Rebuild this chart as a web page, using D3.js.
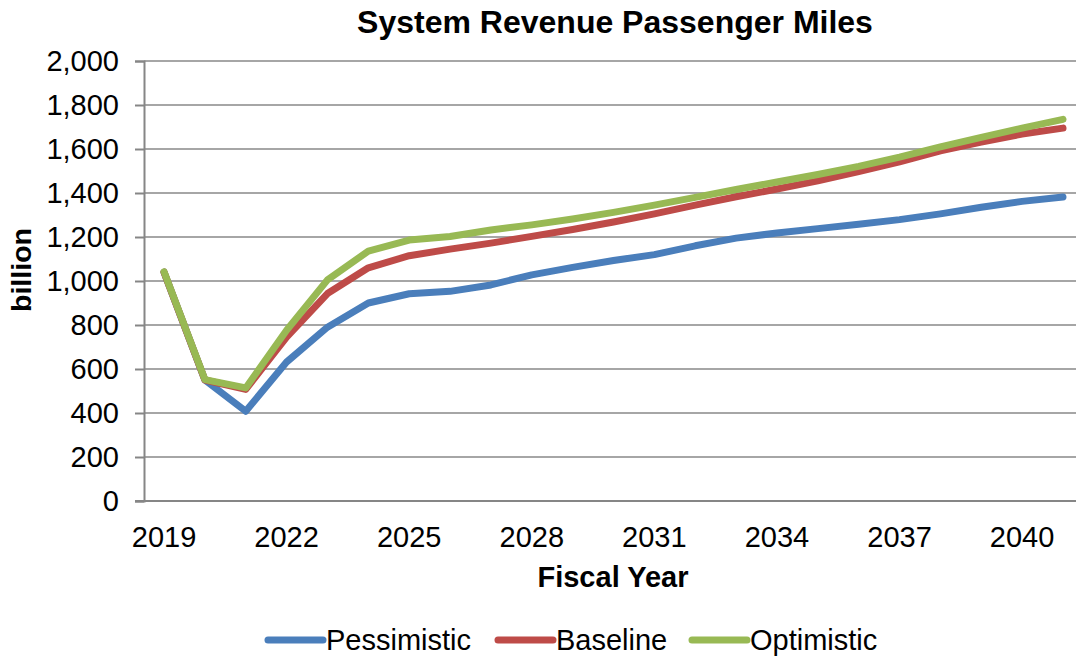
<!DOCTYPE html>
<html>
<head>
<meta charset="utf-8">
<script src="https://cdn.jsdelivr.net/npm/d3@7"></script>
<style>
  html, body { margin: 0; padding: 0; background: #fff; }
  svg { display: block; font-family: "Liberation Sans", Arial, sans-serif; }
</style>
</head>
<body>
<svg id="chart" width="1076" height="656"></svg>
<script>
// Fiscal years on the category axis
const years = [2019, 2020, 2021, 2022, 2023, 2024, 2025, 2026, 2027, 2028, 2029, 2030,
               2031, 2032, 2033, 2034, 2035, 2036, 2037, 2038, 2039, 2040, 2041];
const yearTicks = [2019, 2022, 2025, 2028, 2031, 2034, 2037, 2040];
const valueTicks = [0, 200, 400, 600, 800, 1000, 1200, 1400, 1600, 1800, 2000];

// Revenue passenger miles, billions, per scenario
const pessimistic = [1040, 550, 408, 632, 790, 900, 942, 953, 982, 1028, 1062, 1093,
                     1120, 1160, 1195, 1218, 1238, 1258, 1279, 1305, 1335, 1362, 1382];
const baseline    = [1040, 550, 507, 745, 943, 1060, 1115, 1145, 1172, 1203, 1234, 1268,
                     1305, 1345, 1383, 1418, 1455, 1497, 1542, 1592, 1632, 1668, 1695];
const optimistic  = [1042, 552, 514, 776, 1005, 1136, 1186, 1202, 1232, 1255, 1282, 1312,
                     1345, 1380, 1416, 1450, 1484, 1521, 1563, 1610, 1653, 1695, 1735];

const seriesNames = ["Pessimistic", "Baseline", "Optimistic"];
const seriesColors = ["#4a7ebb", "#be4b48", "#98b954"];
const seriesValues = [pessimistic, baseline, optimistic];

const svg = d3.select("#chart");
const plot = { left: 144, right: 1076, top: 61, bottom: 501 };

const x = d3.scaleBand().domain(years).range([143.6, 1083.4]);
const y = d3.scaleLinear().domain([0, 2000]).range([plot.bottom, plot.top]);
const cx = d => x(d) + x.bandwidth() / 2;

// Horizontal gridlines
svg.append("g")
  .selectAll("line")
  .data(valueTicks.filter(v => v > 0))
  .join("line")
  .attr("x1", plot.left).attr("x2", plot.right)
  .attr("y1", d => y(d)).attr("y2", d => y(d))
  .attr("stroke", "#a6a6a6").attr("stroke-width", 2);

// Value axis
const yAxis = svg.append("g")
  .attr("transform", `translate(${plot.left},0)`)
  .call(d3.axisLeft(y).tickValues(valueTicks).tickSize(9).tickPadding(16)
        .tickFormat(d3.format(",")));
yAxis.select(".domain").attr("stroke", "#868686").attr("stroke-width", 2);
yAxis.selectAll(".tick line").attr("stroke", "#868686").attr("stroke-width", 2);
yAxis.selectAll(".tick text")
  .attr("font-size", 29).attr("fill", "#000")
  .attr("font-family", "Liberation Sans, Arial, sans-serif");

// Category axis
const xAxis = svg.append("g")
  .attr("transform", `translate(0,${plot.bottom})`)
  .call(d3.axisBottom(x).tickValues(yearTicks).tickSize(0).tickPadding(25));
xAxis.select(".domain").remove();
xAxis.selectAll(".tick text")
  .attr("font-size", 29).attr("fill", "#000")
  .attr("font-family", "Liberation Sans, Arial, sans-serif");
svg.append("line")
  .attr("x1", plot.left - 9).attr("x2", plot.right)
  .attr("y1", plot.bottom).attr("y2", plot.bottom)
  .attr("stroke", "#868686").attr("stroke-width", 2);

// Scenario lines
const line = d3.line().x((d, i) => cx(years[i])).y(d => y(d));
svg.append("g")
  .selectAll("path")
  .data(seriesValues)
  .join("path")
  .attr("d", d => line(d))
  .attr("fill", "none")
  .attr("stroke", (d, i) => seriesColors[i])
  .attr("stroke-width", 7)
  .attr("stroke-linejoin", "round")
  .attr("stroke-linecap", "round");

// Titles
svg.append("text")
  .attr("x", 615).attr("y", 33)
  .attr("text-anchor", "middle")
  .attr("font-size", 32).attr("font-weight", "bold")
  .text("System Revenue Passenger Miles");

svg.append("text")
  .attr("x", 613).attr("y", 587)
  .attr("text-anchor", "middle")
  .attr("font-size", 29).attr("font-weight", "bold")
  .text("Fiscal Year");

svg.append("text")
  .attr("transform", "translate(31,270) rotate(-90)")
  .attr("text-anchor", "middle")
  .attr("font-size", 28.5).attr("font-weight", "bold")
  .text("billion");

// Legend
const legendX = [268, 498, 692];
const legend = svg.append("g")
  .selectAll("g")
  .data(seriesNames)
  .join("g")
  .attr("transform", (d, i) => `translate(${legendX[i]},640)`);
legend.append("line")
  .attr("x1", 0).attr("x2", 55)
  .attr("stroke", (d, i) => seriesColors[i])
  .attr("stroke-width", 7)
  .attr("stroke-linecap", "round");
legend.append("text")
  .attr("x", 58).attr("y", 10)
  .attr("font-size", 29)
  .text(d => d);
</script>
</body>
</html>
